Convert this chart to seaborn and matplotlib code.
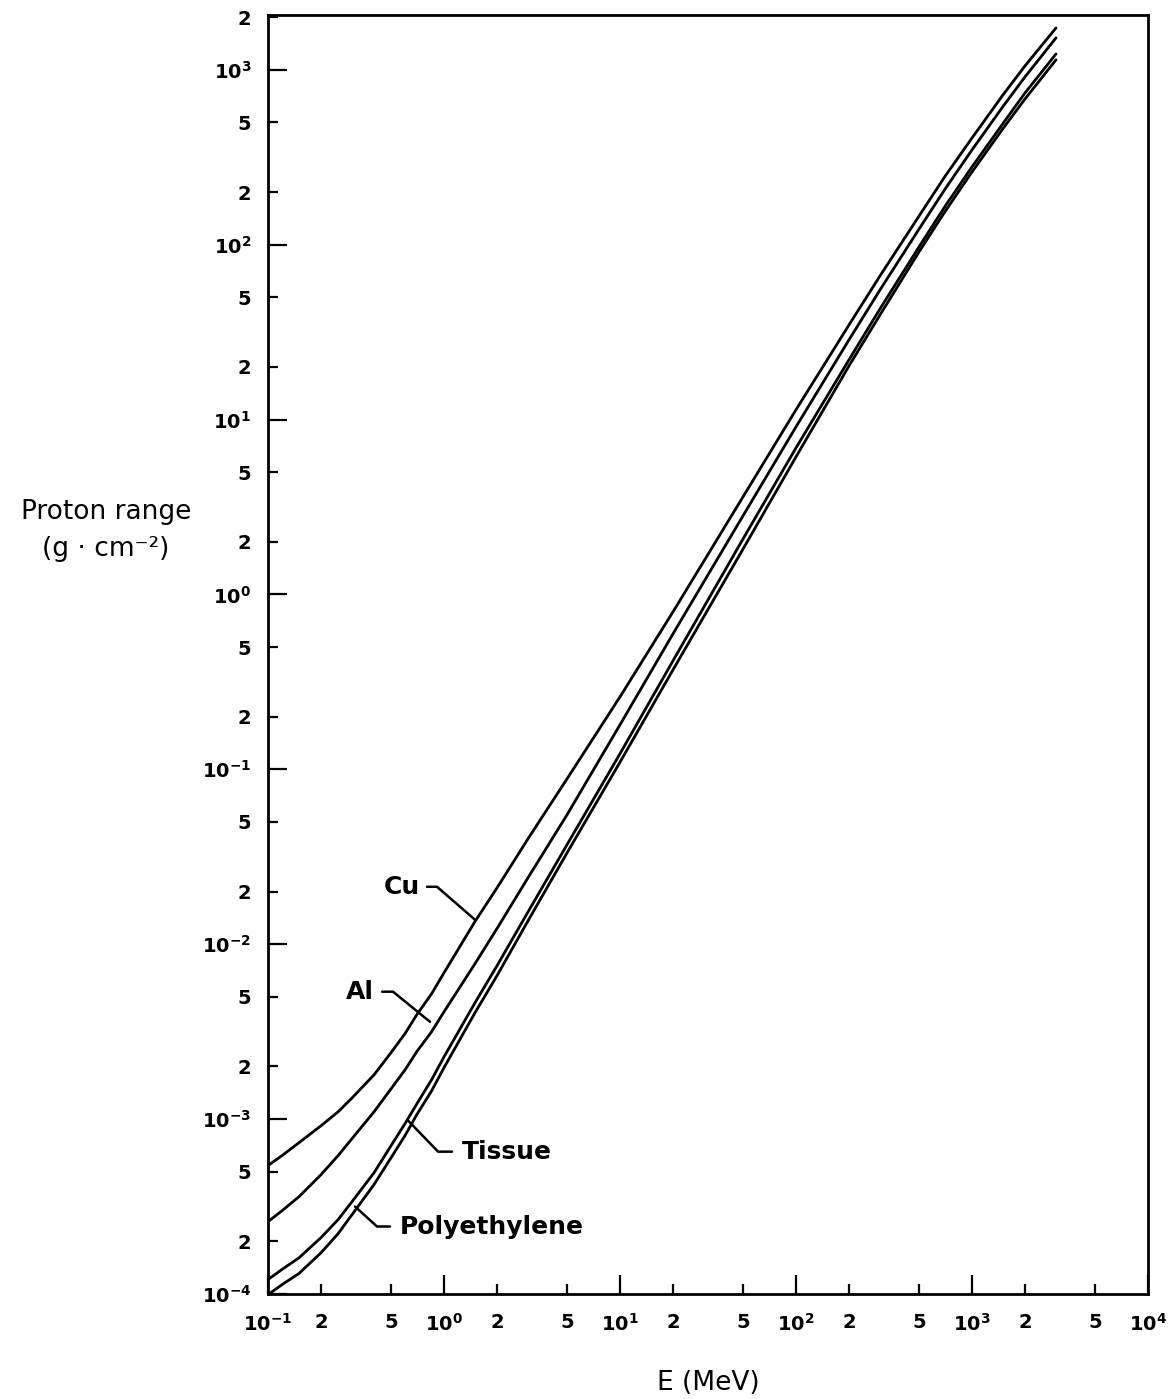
import numpy as np
import pandas as pd
import matplotlib
matplotlib.use("Agg")
import matplotlib.pyplot as plt
import seaborn as sns

# ---- data ----
energy_mev = [0.1, 0.12, 0.15, 0.2, 0.25, 0.3, 0.4, 0.5, 0.6, 0.7, 0.85, 1,
              1.5, 2, 3, 5, 10, 20, 50, 100, 200, 300, 500, 700, 1000, 1500,
              2000, 3000]
range_cu = [5.42e-4, 6.18e-4, 7.33e-4, 9.16e-4, 1.10e-3, 1.32e-3, 1.79e-3,
            2.40e-3, 3.08e-3, 3.95e-3, 5.21e-3, 6.87e-3, 1.35e-2, 2.10e-2,
            4.01e-2, 8.83e-2, 0.260, 0.796, 3.62, 11.4, 34.8, 66.4, 146, 245,
            408, 720, 1054, 1738]
range_al = [2.59e-4, 2.99e-4, 3.60e-4, 4.81e-4, 6.18e-4, 7.73e-4, 1.10e-3,
            1.49e-3, 1.91e-3, 2.43e-3, 3.16e-3, 4.11e-3, 7.74e-3, 1.23e-2,
            2.40e-2, 5.50e-2, 0.180, 0.596, 2.82, 9.10, 28.6, 55.2, 123, 207,
            349, 618, 912, 1524]
range_tissue = [1.21e-4, 1.38e-4, 1.61e-4, 2.10e-4, 2.66e-4, 3.37e-4, 4.93e-4,
                7.05e-4, 9.41e-4, 1.22e-3, 1.68e-3, 2.27e-3, 4.63e-3, 7.53e-3,
                1.53e-2, 3.71e-2, 0.123, 0.418, 2.08, 6.90, 22.0, 43.0, 97.3,
                165, 279, 494, 738, 1234]
range_poly = [9.9e-5, 1.13e-4, 1.31e-4, 1.72e-4, 2.21e-4, 2.84e-4, 4.22e-4,
              6.01e-4, 8.04e-4, 1.06e-3, 1.45e-3, 1.97e-3, 4.06e-3, 6.61e-3,
              1.36e-2, 3.33e-2, 0.110, 0.371, 1.82, 6.13, 20.3, 39.7, 91.1,
              154, 261, 462, 682, 1141]
materials = ["Cu", "Al", "Tissue", "Polyethylene"]

x_major = [1e-1, 1e0, 1e1, 1e2, 1e3, 1e4]
x_major_labels = [r"$\mathbf{10^{-1}}$", r"$\mathbf{10^{0}}$", r"$\mathbf{10^{1}}$",
                  r"$\mathbf{10^{2}}$", r"$\mathbf{10^{3}}$", r"$\mathbf{10^{4}}$"]
x_minor = [0.2, 0.5, 2, 5, 20, 50, 200, 500, 2000, 5000]
x_minor_labels = ["2", "5"] * 5
y_major = [1e-4, 1e-3, 1e-2, 1e-1, 1e0, 1e1, 1e2, 1e3]
y_major_labels = [r"$\mathbf{10^{-4}}$", r"$\mathbf{10^{-3}}$", r"$\mathbf{10^{-2}}$",
                  r"$\mathbf{10^{-1}}$", r"$\mathbf{10^{0}}$", r"$\mathbf{10^{1}}$",
                  r"$\mathbf{10^{2}}$", r"$\mathbf{10^{3}}$"]
y_minor = [2e-4, 5e-4, 2e-3, 5e-3, 2e-2, 5e-2, 0.2, 0.5, 2, 5, 20, 50, 200, 500, 2000]
y_minor_labels = ["2", "5"] * 7 + ["2"]

df = pd.concat([
    pd.DataFrame({"E": energy_mev, "R": vals, "material": m})
    for m, vals in zip(materials, [range_cu, range_al, range_tissue, range_poly])
])

# ---- figure ----
sns.set_theme(style="ticks")
plt.rcParams["font.family"] = ["DejaVu Sans"]
plt.rcParams["mathtext.fontset"] = "dejavusans"
plt.rcParams["text.color"] = "black"
plt.rcParams["axes.labelcolor"] = "black"

fig = plt.figure(figsize=(11.71, 13.99), dpi=100)
ax = fig.add_axes([0.2289, 0.0751, 0.7515, 0.9142])

sns.lineplot(data=df, x="E", y="R", hue="material", units="material",
             estimator=None, palette=["black"] * 4, linewidth=2.0,
             legend=False, ax=ax, sort=True)

ax.set_xscale("log")
ax.set_yscale("log")
ax.set_xlim(1e-1, 1e4)
ax.set_ylim(1e-4, 2.06e3)

ax.set_xticks(x_major, labels=x_major_labels)
ax.set_xticks(x_minor, labels=x_minor_labels, minor=True)
ax.set_yticks(y_major, labels=y_major_labels)
ax.set_yticks(y_minor, labels=y_minor_labels, minor=True)

ax.tick_params(which="major", direction="in", length=14, width=1.6,
               labelsize=14, color="black", labelcolor="black")
ax.tick_params(which="minor", direction="in", length=7, width=1.6,
               labelsize=14, color="black", labelcolor="black")
ax.tick_params(axis="x", which="both", pad=14)
ax.tick_params(axis="y", which="both", pad=12)
for lbl in ax.get_xticklabels(which="both") + ax.get_yticklabels(which="both"):
    lbl.set_fontweight("bold")

for s in ax.spines.values():
    s.set_visible(True)
    s.set_linewidth(2.0)
    s.set_color("black")
ax.set_xlabel("")
ax.set_ylabel("")
ax.grid(False)

# ---- curve labels with leader lines ----
lw_lead = 1.8
ax.plot([0.80, 0.912, 1.50], [0.0213, 0.0213, 0.0138], color="black", lw=lw_lead)
ax.text(0.73, 0.0213, "Cu", ha="right", va="center", fontsize=18, fontweight="bold", color="black")
ax.plot([0.445, 0.513, 0.832], [5.35e-3, 5.35e-3, 3.6e-3], color="black", lw=lw_lead)
ax.text(0.40, 5.35e-3, "Al", ha="right", va="center", fontsize=18, fontweight="bold", color="black")
ax.plot([0.617, 0.925, 1.11], [9.93e-4, 6.51e-4, 6.51e-4], color="black", lw=lw_lead)
ax.text(1.265, 6.51e-4, "Tissue", ha="left", va="center", fontsize=18, fontweight="bold", color="black")
ax.plot([0.312, 0.416, 0.493], [3.16e-4, 2.43e-4, 2.43e-4], color="black", lw=lw_lead)
ax.text(0.562, 2.43e-4, "Polyethylene", ha="left", va="center", fontsize=18, fontweight="bold", color="black")

# ---- axis titles ----
fig.text(106 / 1171, 1 - 512 / 1399, "Proton range", ha="center", va="center",
         fontsize=19, color="black")
fig.text(106 / 1171, 1 - 549 / 1399, "(g \u00b7 cm\u207b\u00b2)", ha="center", va="center",
         fontsize=19, color="black")
fig.text(708 / 1171, 1 - 1383 / 1399, "E (MeV)", ha="center", va="center",
         fontsize=19, color="black")

fig.savefig("out.png", dpi=100, facecolor="white")
